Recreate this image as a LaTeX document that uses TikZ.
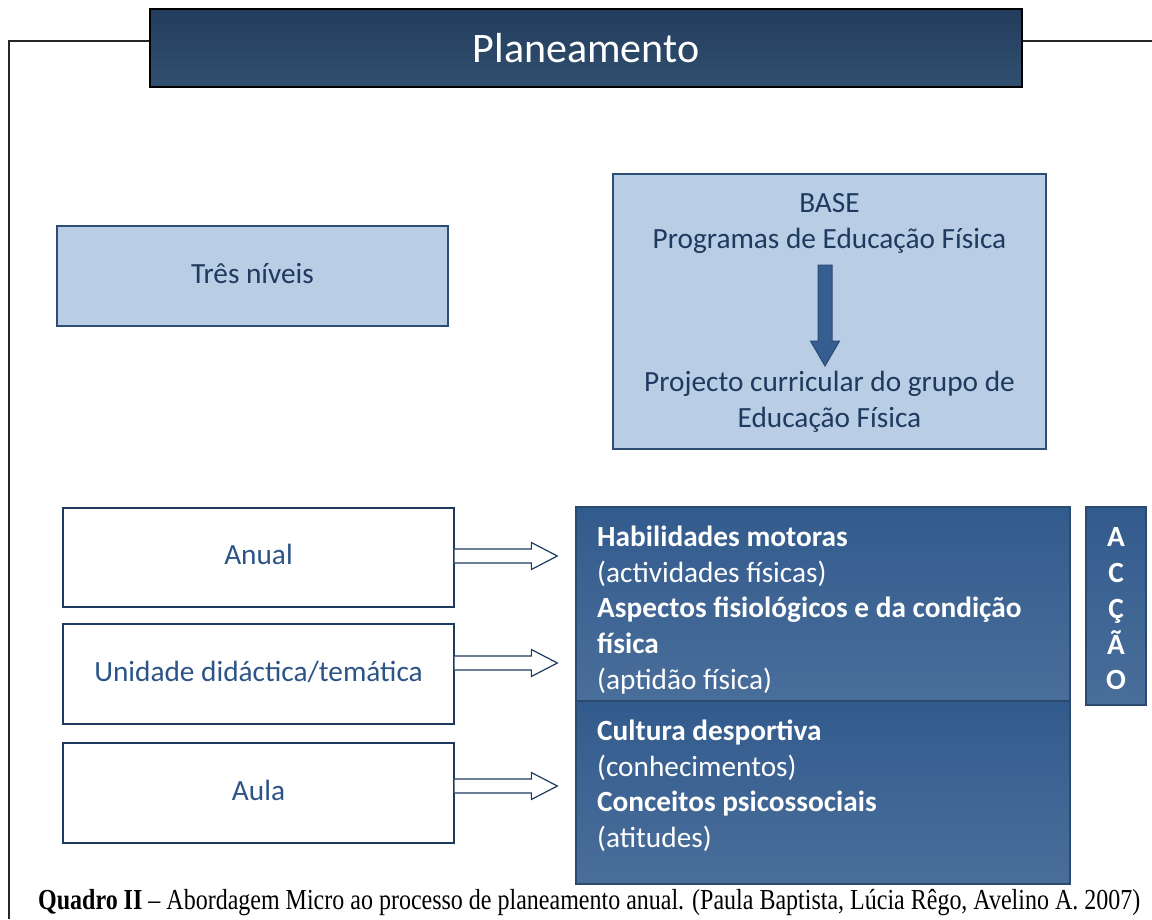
\documentclass[tikz,border=0pt]{standalone}
\usepackage{fontspec}
\setmainfont{Carlito}
\newfontfamily\capfont{Liberation Serif}
\usetikzlibrary{calc}
\definecolor{titletop}{HTML}{233C5D}
\definecolor{titlebot}{HTML}{31506F}
\definecolor{lightfill}{HTML}{B9CDE5}
\definecolor{lightdraw}{HTML}{2E4D72}
\definecolor{navytext}{HTML}{1F3A5F}
\definecolor{midtext}{HTML}{2C5486}
\definecolor{darktop}{HTML}{325B8D}
\definecolor{darkbot}{HTML}{4A6E9A}
\definecolor{darkdraw}{HTML}{2A4A70}
\definecolor{arrowfill}{HTML}{375E91}
\tikzset{
  boxbase/.style={rectangle, inner sep=0pt, anchor=center},
  titlebox/.style={boxbase, draw=black, line width=1.5pt, top color=titletop, bottom color=titlebot,
     text=white, font=\fontsize{42}{46}\selectfont},
  lightbox/.style={boxbase, draw=lightdraw, line width=1.3pt, fill=lightfill, text=navytext,
     font=\fontsize{29.3}{36}\selectfont},
  whitebox/.style={boxbase, draw=navytext, line width=1.3pt, fill=white, text=midtext,
     font=\fontsize{29.3}{36}\selectfont},
  darkbox/.style={boxbase, draw=darkdraw, line width=1.3pt, top color=darktop, bottom color=darkbot},
  darktext/.style={inner sep=0pt, text=white, align=left, font=\fontsize{29.3}{35.8}\selectfont},
  basetext/.style={inner sep=0pt, text=navytext, align=center, font=\fontsize{29.3}{36}\selectfont},
  frameline/.style={draw=black!85, line width=1.1pt},
  hollowarrow/.style={draw=navytext, line width=1.2pt, fill=white, line join=miter},
  downarrow/.style={draw=darkdraw, line width=1pt, fill=arrowfill},
}
\begin{document}
\begin{tikzpicture}[x=1pt,y=-1pt]
\useasboundingbox (0,0) rectangle (1152,919);
% frame
\draw[frameline] (9,919) -- (9,41) -- (150,41);
\draw[frameline] (1022,41) -- (1152,41);
% title
\node[titlebox, minimum width=872pt, minimum height=78pt] (title) at (586,48) {Planeamento};
% light boxes
\node[lightbox, minimum width=391pt, minimum height=100pt] (tres) at (252.5,276) {\raisebox{6pt}{Três níveis}};
\node[lightbox, minimum width=433pt, minimum height=275pt] (base) at (829.5,311.5) {};
\node[basetext, anchor=north] (baset) at (829.5,193.5) {BASE\\Programas de Educação Física};
\node[basetext, anchor=north] (baseb) at (829.5,371) {Projecto curricular do grupo de\\Educação Física};
% down arrow
\coordinate (dtop) at (825,265);
\coordinate (dtip) at (825,366);
\draw[downarrow] ($(dtop)+(-7,0)$) -- ($(dtop)+(7,0)$) -- ($(dtip)+(7,-25)$) -- ($(dtip)+(14.5,-25)$)
  -- (dtip) -- ($(dtip)+(-14.5,-25)$) -- ($(dtip)+(-7,-25)$) -- cycle;
% white boxes
\node[whitebox, minimum width=391pt, minimum height=99pt] (anual) at (258.5,557.5) {\raisebox{7pt}{Anual}};
\node[whitebox, minimum width=391pt, minimum height=100pt] (unid) at (258.5,674) {\raisebox{6pt}{Unidade didáctica/temática}};
\node[whitebox, minimum width=391pt, minimum height=100pt] (aula) at (258.5,793) {\raisebox{6pt}{Aula}};
% dark boxes
\node[darkbox, minimum width=494pt, minimum height=183pt] (dark2) at (823,792.5) {};
\node[darkbox, minimum width=494pt, minimum height=194pt] (dark1) at (823,604) {};
\node[darkbox, minimum width=60pt, minimum height=198pt] (acao) at (1116,606) {};
\node[darktext, anchor=north west] (d1t) at (597,525.5) {\textbf{Habilidades motoras}\\(actividades físicas)\\\textbf{Aspectos fisiológicos e da condição}\\\textbf{física}\\(aptidão física)};
\node[darktext, anchor=north west] (d2t) at (597,719.5) {\textbf{Cultura desportiva}\\(conhecimentos)\\\textbf{Conceitos psicossociais}\\(atitudes)};
\node[darktext, align=center, anchor=north] (acaot) at (1116,527.5) {\textbf{A}\\\textbf{C}\\\textbf{Ç}\\\textbf{Ã}\\\textbf{O}};
% hollow arrows
\foreach \src/\yy/\nm in {anual/556/a, unid/663/b, aula/786/c}{
  \coordinate (\nm s) at (\src.east |- 0,\yy);
  \coordinate (\nm e) at ($(dark1.west |- 0,\yy)+(-18,0)$);
  \draw[hollowarrow] ($(\nm s)+(0,-7)$) -- ($(\nm e)+(-26,-7)$) -- ($(\nm e)+(-26,-13.5)$) -- (\nm e)
     -- ($(\nm e)+(-26,13.5)$) -- ($(\nm e)+(-26,7)$) -- ($(\nm s)+(0,7)$);
}
% caption
\node[inner sep=0pt, anchor=base west] (cap) at (38,909) {\resizebox{1102pt}{\height}{\capfont\fontsize{29}{31}\selectfont\textbf{Quadro II} – Abordagem Micro ao processo de planeamento anual. (Paula Baptista, Lúcia Rêgo, Avelino A. 2007)}};
\end{tikzpicture}
\end{document}
